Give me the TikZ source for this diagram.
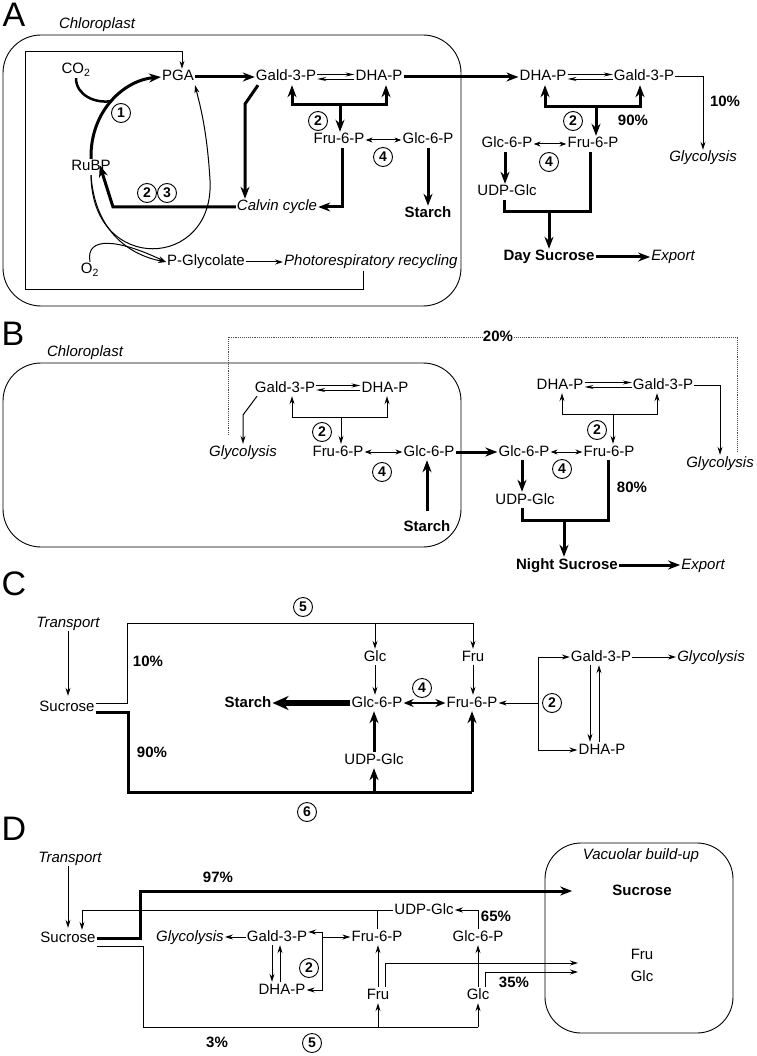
\documentclass[tikz,border=0pt]{standalone}
\usepackage{fontspec}
\setmainfont{Liberation Sans}
\usetikzlibrary{arrows.meta}

\begin{document}
\begin{tikzpicture}[x=1pt,y=-1pt]
      \tikzstyle{every node}=[font=\fontsize{15}{18}\selectfont,inner sep=1pt,text height=11pt,text depth=3pt]
      \tikzstyle{itl}=[font=\fontsize{15}{18}\selectfont\itshape]
      \tikzstyle{bld}=[font=\fontsize{15}{18}\selectfont\bfseries]
      \tikzstyle{pct}=[font=\fontsize{15}{18}\selectfont\bfseries]
      \tikzstyle{panel}=[font=\fontsize{34}{34}\selectfont,text height=,text depth=]
      \tikzstyle{enz}=[circle,draw,line width=0.9pt,minimum size=19pt,inner sep=0pt,text height=,text depth=,font=\fontsize{14}{14}\selectfont\bfseries]
      \tikzstyle{memb}=[draw,line width=0.9pt,rounded corners=38pt]
      \tikzstyle{tnln}=[line width=1pt]
      \tikzstyle{thln}=[line width=3pt]
      \tikzstyle{tnarr}=[line width=1pt,-{Stealth[length=8pt,width=5pt]}]
      \tikzstyle{tharr}=[line width=3pt,-{Stealth[length=12pt,width=9pt]}]
      \tikzstyle{eqarr}=[line width=0.9pt,-{Stealth[length=9pt,width=4pt]}]
      \tikzstyle{dbl}=[line width=1pt,{Stealth[length=7pt,width=5pt]}-{Stealth[length=7pt,width=5pt]}]
      \tikzstyle{thdbl}=[line width=2.5pt,{Stealth[length=10pt,width=8pt]}-{Stealth[length=10pt,width=8pt]}]
      \useasboundingbox (0,0) rectangle (756,1056);
      %
      % A: day, chloroplast and cytosol
      \node [panel] (pA) at (14,15) {A};
      \node [itl] (chlA) at (97,25) {Chloroplast};
      \draw [memb] (3,35) rectangle (461,306);
      \node (co2)    at (76,70)   {CO\textsubscript{2}};
      \node (pga)    at (178,77)  {PGA};
      \node (galdA)  at (286,77)  {Gald-3-P};
      \node (dhaA)   at (379,77)  {DHA-P};
      \node (dhaA2)  at (543,77)  {DHA-P};
      \node (galdA2) at (644,77)  {Gald-3-P};
      \node (rubp)   at (91,167)  {RuBP};
      \node (fruA)   at (339,140) {Fru-6-P};
      \node (glcpA)  at (428,140) {Glc-6-P};
      \node [itl] (calvin) at (277,207) {Calvin cycle};
      \node [bld] (starchA) at (428,214) {Starch};
      \node (glcpA2) at (507,144) {Glc-6-P};
      \node (fruA2)  at (593,144) {Fru-6-P};
      \node (udpA)   at (507,192) {UDP-Glc};
      \node [bld] (daysuc) at (549,257) {Day Sucrose};
      \node [itl] (expA) at (673,257) {Export};
      \node [itl] (glycA) at (703,158) {Glycolysis};
      \node (o2)     at (90,270)  {O\textsubscript{2}};
      \node (pglyc)  at (206,262) {P-Glycolate};
      \node [itl,anchor=west] (photo) at (283,262) {Photorespiratory recycling};
      \node [enz] (e1a) at (121,113) {1};
      \node [enz] (e2a) at (147,193) {2};
      \node [enz] (e3a) at (167,193) {3};
      \node [enz] (e2b) at (318,121) {2};
      \node [enz] (e4a) at (383,157) {4};
      \node [enz] (e2c) at (573,121) {2};
      \node [enz] (e4b) at (549,162) {4};
      \node [pct] (p90a) at (633,122) {90\%};
      \node [pct] (p10a) at (725,103) {10\%};
      \coordinate (co2in) at (112,101);
      \coordinate (phin)  at (363,271);
      \coordinate (gcA)   at (245,104);
      \coordinate (crA)   at (113,207);
      \coordinate (brA)   at (340,105);
      \coordinate (brA2)  at (596,107);
      \coordinate (brA3)  at (549,212);
      %
      \draw [tharr] (rubp.north) .. controls (90,110) and (125,80) .. (pga.west);
      \draw [line width=2.5pt] (co2.south) .. controls (76,95) and (95,104) .. (co2in);
      \draw [tnarr] (rubp.south) .. controls (92,275) and (215,270) .. (210,180)
                                  .. controls (207,130) and (200,105) .. (pga.south east);
      \draw [tnarr] (rubp.south) .. controls (95,232) and (130,255) .. (pglyc.west);
      \draw [tnarr] (o2.north) .. controls (85,235) and (120,240) .. (pglyc.west);
      \draw [tnarr] (pglyc) -- (photo);
      \draw [tnarr] (phin) -- (363,289) -- (25,289) -- (25,52) -| ([xshift=4]pga.north);
      \draw [tharr] (pga) -- (galdA);
      \draw [eqarr] ([yshift=2.5]galdA.east) -- ([yshift=2.5]dhaA.west);
      \draw [eqarr] ([yshift=-2]dhaA.west) -- ([yshift=-2]galdA.east);
      \draw [tharr] (dhaA) -- (dhaA2);
      \draw [tharr] (brA) -| ([xshift=6]galdA.south);
      \draw [tharr] (brA) -| ([xshift=7]dhaA.south);
      \draw [tharr] (brA) -- (brA |- fruA.north);
      \draw [tharr] ([xshift=-28]galdA.south) -- (gcA) -- (gcA |- calvin.north);
      \draw [tharr] ([xshift=3]fruA.south) |- (calvin.east);
      \draw [tharr] (calvin.west) -- (crA) -- ([shift={(-12,-10)}]rubp.south east);
      \draw [dbl] (fruA.east) -- (glcpA.west);
      \draw [tharr] (glcpA.south) -- (glcpA.south |- starchA.north);
      \draw [eqarr] ([yshift=2.5]dhaA2.east) -- ([yshift=2.5]galdA2.west);
      \draw [eqarr] ([yshift=-2]galdA2.west) -- ([yshift=-2]dhaA2.east);
      \draw [tharr] (brA2) -| ([xshift=2]dhaA2.south);
      \draw [tharr] (brA2) -| ([xshift=-4]galdA2.south);
      \draw [tharr] (brA2) -- (brA2 |- fruA2.north);
      \draw [tnarr] (galdA2.east) -| (glycA.north);
      \draw [dbl] (glcpA2.east) -- (fruA2.west);
      \draw [tharr] ([xshift=-2]glcpA2.south) -- ([xshift=-2]glcpA2.south |- udpA.north);
      \draw [thln] ([xshift=-3]udpA.south) |- (brA3) -| ([xshift=-3]fruA2.south);
      \draw [tharr] (brA3) -- (brA3 |- daysuc.north);
      \draw [tharr] (daysuc) -- (expA);
      %
      % B: night, starch breakdown
      \node [panel] (pB) at (13,334) {B};
      \node [itl] (chlB) at (85,352) {Chloroplast};
      \draw [memb] (3,363) rectangle (461,547);
      \node (galdB)  at (285,388) {Gald-3-P};
      \node (dhaB)   at (385,388) {DHA-P};
      \node [itl] (glycB) at (243,452) {Glycolysis};
      \node (fruB)   at (338,452) {Fru-6-P};
      \node (glcpB)  at (429,452) {Glc-6-P};
      \node [bld] (starchB) at (427,527) {Starch};
      \node (glcpB2) at (524,452) {Glc-6-P};
      \node (fruB2)  at (609,452) {Fru-6-P};
      \node (dhaB2)  at (560,385) {DHA-P};
      \node (galdB2) at (663,385) {Gald-3-P};
      \node [itl] (glycB2) at (720,463) {Glycolysis};
      \node (udpB)   at (525,500) {UDP-Glc};
      \node [bld] (nightsuc) at (567,565) {Night Sucrose};
      \node [itl] (expB) at (703,565) {Export};
      \node [pct] (p20b) at (498,337) {20\%};
      \node [pct] (p80b) at (632,488) {80\%};
      \node [enz] (e2d) at (322,432) {2};
      \node [enz] (e4c) at (382,472) {4};
      \node [enz] (e2e) at (597,430) {2};
      \node [enz] (e4d) at (562,469) {4};
      \coordinate (dotA) at (228,435);
      \coordinate (dotB) at (737,451);
      \coordinate (ggB)  at (243,415);
      \coordinate (brB)  at (341,417);
      \coordinate (brB2) at (613,414);
      \coordinate (brB3) at (564,520);
      %
      \draw [densely dotted,line width=0.9pt,black!70] (dotA) |- (p20b.west);
      \draw [densely dotted,line width=0.9pt,black!70] (p20b.east) -| (dotB);
      \draw [eqarr] ([yshift=2.5]galdB.east) -- ([yshift=2.5]dhaB.west);
      \draw [eqarr] ([yshift=-2]dhaB.west) -- ([yshift=-2]galdB.east);
      \draw [tnarr] (brB) -| ([xshift=7]galdB.south);
      \draw [tnarr] (brB) -| ([xshift=2]dhaB.south);
      \draw [tnarr] (brB) -- (brB |- fruB.north);
      \draw [tnarr] ([xshift=-28]galdB.south) -- (ggB) -- (glycB.north);
      \draw [dbl] (fruB.east) -- (glcpB.west);
      \draw [tharr,shorten <=8pt] (starchB.north) -- (starchB.north |- glcpB.south);
      \draw [tharr] (glcpB) -- (glcpB2);
      \draw [eqarr] ([yshift=2.5]dhaB2.east) -- ([yshift=2.5]galdB2.west);
      \draw [eqarr] ([yshift=-2]galdB2.west) -- ([yshift=-2]dhaB2.east);
      \draw [tnarr] (brB2) -| ([xshift=2]dhaB2.south);
      \draw [tnarr] (brB2) -| ([xshift=-6]galdB2.south);
      \draw [tnarr] (brB2) -- (brB2 |- fruB2.north);
      \draw [tnarr] (galdB2.east) -| (glycB2.north);
      \draw [dbl] (glcpB2.east) -- (fruB2.west);
      \draw [tharr] ([xshift=-2]glcpB2.south) -- ([xshift=-2]glcpB2.south |- udpB.north);
      \draw [thln] ([xshift=-3]udpB.south) |- (brB3) -| ([xshift=-1]fruB2.south);
      \draw [tharr] (brB3) -- (brB3 |- nightsuc.north);
      \draw [tharr] (nightsuc) -- (expB);
      %
      % C: sucrose fed in the dark
      \node [panel] (pC) at (14,584) {C};
      \node [itl] (transC) at (68,623) {Transport};
      \node (sucC)   at (67,707)  {Sucrose};
      \node (glcC)   at (375,657) {Glc};
      \node (fruC)   at (473,657) {Fru};
      \node (glcpC)  at (377,703) {Glc-6-P};
      \node (frupC)  at (472,703) {Fru-6-P};
      \node [bld] (starchC) at (248,703) {Starch};
      \node (udpC)   at (374,760) {UDP-Glc};
      \node (galdC)  at (601,657) {Gald-3-P};
      \node [itl] (glycC) at (711,657) {Glycolysis};
      \node (dhaC)   at (602,750) {DHA-P};
      \node [enz] (e5a) at (303,607) {5};
      \node [enz] (e4e) at (422,688) {4};
      \node [enz] (e2f) at (552,703) {2};
      \node [enz] (e6a) at (307,812) {6};
      \node [pct] (p10c) at (148,662) {10\%};
      \node [pct] (p90c) at (152,753) {90\%};
      \coordinate (topC) at (127,623);
      \coordinate (botC) at (128,792);
      \coordinate (brC)  at (538,703);
      %
      \draw [tnarr,shorten >=3pt] (transC.south) -- (transC.south |- sucC.north);
      \draw [tnln] ([yshift=4]sucC.east) -| (topC) -- (topC -| fruC.north);
      \draw [tnarr] (topC -| glcC.north) -- (glcC.north);
      \draw [tnarr] (topC -| fruC.north) -- (fruC.north);
      \draw [thln] ([yshift=-5]sucC.east) -| (botC) -- (botC -| frupC.south);
      \draw [tharr] (botC -| udpC.south) -- (udpC.south);
      \draw [tharr] (botC -| frupC.south) -- (frupC.south);
      \draw [tnarr] (glcC) -- (glcC |- glcpC.north);
      \draw [tnarr] (fruC) -- (fruC |- frupC.north);
      \draw [thdbl] (glcpC.east) -- (frupC.west);
      \draw [line width=6pt,-{Stealth[length=16pt,width=14pt]}] (glcpC.west) -- (starchC.east);
      \draw [tharr] (udpC.north) -- (udpC.north |- glcpC.south);
      \draw [tnarr] (brC) -- (frupC.east);
      \draw [tnarr] (brC) |- (galdC.west);
      \draw [tnarr] (brC) |- (dhaC.west);
      \draw [tnarr] (galdC) -- (glycC);
      \draw [tnarr] ([xshift=-11]galdC.south) -- ([xshift=-11]galdC.south |- dhaC.north);
      \draw [tnarr] ([xshift=-2]galdC.south |- dhaC.north) -- ([xshift=-2]galdC.south);
      %
      % D: vacuolar build-up
      \node [panel] (pD) at (14,829) {D};
      \node [itl] (transD) at (70,858) {Transport};
      \node (sucD)   at (68,938)  {Sucrose};
      \node [itl] (glycD) at (190,937) {Glycolysis};
      \node (galdD)  at (277,937) {Gald-3-P};
      \node (dhaD)   at (282,990) {DHA-P};
      \node (frupD)  at (377,937) {Fru-6-P};
      \node (udpD)   at (424,910) {UDP-Glc};
      \node (glcpD)  at (478,937) {Glc-6-P};
      \node (fruD)   at (378,995) {Fru};
      \node (glcD)   at (478,995) {Glc};
      \draw [memb,rounded corners=36pt] (545,843) rectangle (733,1033);
      \node [itl] (vacT) at (641,855) {Vacuolar build-up};
      \node [bld] (sucV) at (642,891) {Sucrose};
      \node (fruV)   at (642,955) {Fru};
      \node (glcV)   at (642,977) {Glc};
      \node [enz] (e2g) at (309,968) {2};
      \node [enz] (e5b) at (312,1043) {5};
      \node [pct] (p97d) at (218,878) {97\%};
      \node [pct] (p65d) at (496,917) {65\%};
      \node [pct] (p35d) at (514,983) {35\%};
      \node [pct] (p3d)  at (217,1043) {3\%};
      \coordinate (k97)  at (140,891);
      \coordinate (b3)   at (143,1027);
      \coordinate (brDt) at (322,932);
      \coordinate (vacF) at (578,963);
      \coordinate (vacG) at (578,972);
      %
      \draw [tnarr,shorten >=2pt] (transD.south -| sucD.north) -- (sucD.north);
      \draw [tnarr] (udpD.west) -| ([xshift=14]sucD.north);
      \draw [tnln] (frupD.north) -- (frupD.north |- udpD.west);
      \draw [tnarr] (glcpD.north) |- (udpD.east);
      \draw [tharr,shorten >=39pt] (sucD.east) -| (k97) -- (k97 -| sucV.west);
      \draw [tnln] ([yshift=-8]sucD.east) -| (b3) -- (b3 -| glcD.south);
      \draw [tnarr] (b3 -| fruD.south) -- (fruD.south);
      \draw [tnarr] (b3 -| glcD.south) -- (glcD.south);
      \draw [tnarr] (fruD.north) -- (fruD.north |- frupD.south);
      \draw [tnarr] (glcD.north) -- (glcD.north |- glcpD.south);
      \draw [tnarr] ([xshift=7]fruD.north) |- (vacF);
      \draw [tnarr] ([xshift=7]glcD.north) |- (vacG);
      \draw [tnarr] (galdD) -- (glycD);
      \draw [tnarr] ([xshift=-5]galdD.south) -- ([xshift=-5]galdD.south |- dhaD.north);
      \draw [tnarr] ([xshift=3]galdD.south |- dhaD.north) -- ([xshift=3]galdD.south);
      \draw [tnarr] (brDt) -- (brDt -| galdD.east);
      \draw [tnarr] (brDt) |- (dhaD.east);
      \draw [tnarr] (brDt |- frupD.west) -- (frupD.west);
\end{tikzpicture}
\end{document}
